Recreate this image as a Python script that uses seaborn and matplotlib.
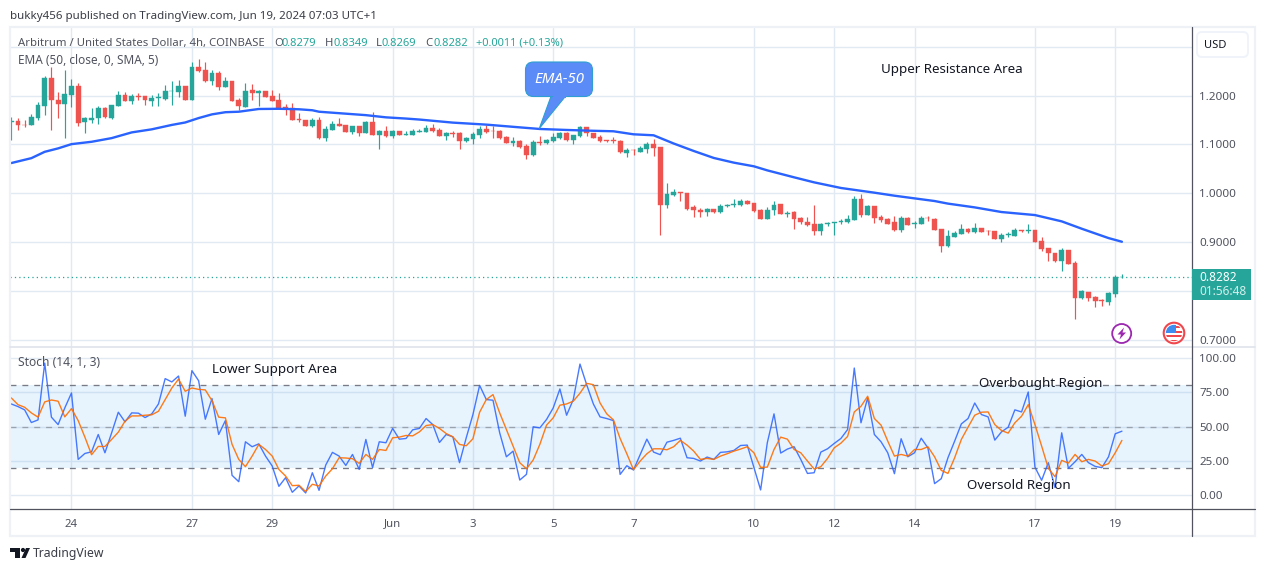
import matplotlib
matplotlib.use("Agg")
import numpy as np
import pandas as pd
import matplotlib.pyplot as plt
from matplotlib.patches import Circle, FancyBboxPatch, Polygon, Rectangle
import seaborn as sns

# candles, 4h
opens = [1.145,1.148,1.140,1.140,1.154,1.179,1.236,1.192,1.183,1.202,
 1.220,1.145,1.150,1.155,1.175,1.154,1.179,1.201,1.189,1.199,
 1.199,1.189,1.195,1.193,1.209,1.208,1.220,1.192,1.259,1.253,
 1.230,1.246,1.218,1.230,1.192,1.177,1.212,1.205,1.210,1.199,
 1.191,1.176,1.175,1.152,1.150,1.138,1.150,1.113,1.130,1.141,
 1.139,1.125,1.138,1.124,1.146,1.120,1.127,1.118,1.127,1.120,
 1.120,1.125,1.126,1.134,1.130,1.118,1.124,1.123,1.107,1.112,
 1.119,1.132,1.128,1.128,1.116,1.103,1.107,1.097,1.078,1.106,
 1.103,1.108,1.113,1.124,1.109,1.117,1.136,1.123,1.116,1.109,
 1.109,1.108,1.083,1.089,1.085,1.091,1.101,1.095,0.976,0.996,
 1.003,1.001,0.972,0.966,0.962,0.968,0.961,0.974,0.977,0.976,
 0.984,0.980,0.966,0.947,0.966,0.979,0.958,0.962,0.949,0.941,
 0.937,0.923,0.938,0.940,0.941,0.941,0.946,0.988,0.956,0.974,
 0.952,0.947,0.941,0.925,0.950,0.938,0.938,0.950,0.948,0.927,
 0.892,0.911,0.917,0.928,0.921,0.930,0.923,0.923,0.906,0.915,
 0.913,0.926,0.924,0.925,0.902,0.888,0.878,0.861,0.884,0.857,
 0.786,0.798,0.788,0.781,0.777,0.795,0.8279]
closes = [1.148,1.140,1.139,1.156,1.180,1.236,1.192,1.183,1.203,1.220,
 1.143,1.154,1.155,1.175,1.156,1.180,1.201,1.189,1.199,1.197,
 1.190,1.195,1.197,1.210,1.210,1.220,1.192,1.259,1.251,1.230,
 1.246,1.218,1.230,1.189,1.179,1.210,1.206,1.210,1.198,1.189,
 1.174,1.172,1.150,1.151,1.138,1.150,1.114,1.131,1.142,1.138,
 1.125,1.138,1.124,1.146,1.120,1.127,1.117,1.127,1.120,1.121,
 1.127,1.127,1.133,1.128,1.118,1.123,1.122,1.108,1.113,1.121,
 1.132,1.126,1.127,1.113,1.104,1.107,1.095,1.078,1.105,1.104,
 1.109,1.115,1.124,1.109,1.119,1.136,1.123,1.113,1.108,1.108,
 1.108,1.085,1.089,1.088,1.093,1.101,1.093,0.976,0.999,1.003,
 1.001,0.968,0.966,0.962,0.968,0.962,0.974,0.977,0.978,0.984,
 0.979,0.964,0.947,0.966,0.977,0.958,0.960,0.947,0.941,0.935,
 0.923,0.938,0.939,0.941,0.943,0.947,0.988,0.956,0.974,0.949,
 0.945,0.937,0.925,0.949,0.936,0.939,0.949,0.949,0.926,0.892,
 0.912,0.918,0.928,0.921,0.929,0.921,0.922,0.906,0.915,0.916,
 0.925,0.922,0.925,0.901,0.886,0.878,0.861,0.884,0.856,0.786,
 0.800,0.786,0.780,0.780,0.796,0.828,0.8282]
highs = [1.157,1.155,1.151,1.162,1.187,1.240,1.258,1.208,1.253,1.234,
 1.225,1.157,1.175,1.179,1.176,1.180,1.209,1.208,1.203,1.205,
 1.200,1.201,1.205,1.222,1.229,1.232,1.220,1.268,1.275,1.268,
 1.253,1.251,1.238,1.230,1.196,1.225,1.224,1.212,1.210,1.212,
 1.205,1.183,1.184,1.164,1.151,1.155,1.157,1.138,1.149,1.155,
 1.140,1.138,1.138,1.148,1.166,1.129,1.138,1.129,1.128,1.128,
 1.131,1.131,1.140,1.141,1.133,1.126,1.128,1.125,1.115,1.126,
 1.138,1.139,1.138,1.130,1.117,1.115,1.109,1.100,1.109,1.117,
 1.111,1.123,1.125,1.125,1.120,1.138,1.136,1.123,1.119,1.110,
 1.115,1.109,1.092,1.091,1.097,1.105,1.111,1.095,1.021,1.008,
 1.003,1.001,0.976,0.971,0.970,0.969,0.979,0.979,0.988,0.988,
 0.987,0.980,0.967,0.972,0.984,0.979,0.964,0.963,0.952,0.951,
 0.976,0.939,0.942,0.941,0.947,0.955,0.995,0.999,0.976,0.974,
 0.956,0.949,0.954,0.954,0.951,0.943,0.954,0.954,0.949,0.928,
 0.925,0.922,0.937,0.930,0.939,0.930,0.925,0.923,0.918,0.920,
 0.930,0.926,0.937,0.926,0.910,0.889,0.879,0.889,0.885,0.861,
 0.803,0.799,0.791,0.784,0.798,0.832,0.8349]
lows = [1.109,1.129,1.135,1.140,1.151,1.160,1.129,1.155,1.114,1.177,
 1.138,1.124,1.143,1.142,1.155,1.153,1.179,1.188,1.183,1.191,
 1.181,1.179,1.179,1.192,1.180,1.198,1.191,1.192,1.248,1.227,
 1.222,1.212,1.217,1.188,1.171,1.177,1.192,1.179,1.198,1.188,
 1.173,1.160,1.150,1.145,1.138,1.136,1.111,1.108,1.129,1.138,
 1.125,1.121,1.118,1.123,1.119,1.091,1.116,1.114,1.119,1.119,
 1.119,1.125,1.126,1.126,1.117,1.110,1.115,1.091,1.105,1.100,
 1.114,1.124,1.113,1.112,1.102,1.097,1.093,1.071,1.076,1.098,
 1.100,1.106,1.111,1.108,1.101,1.116,1.117,1.113,1.106,1.106,
 1.103,1.083,1.075,1.078,1.085,1.083,1.076,0.915,0.971,0.994,
 0.984,0.966,0.952,0.952,0.954,0.959,0.959,0.973,0.973,0.975,
 0.978,0.962,0.947,0.947,0.956,0.958,0.952,0.927,0.937,0.934,
 0.915,0.915,0.934,0.915,0.937,0.940,0.945,0.952,0.955,0.940,
 0.942,0.937,0.924,0.921,0.935,0.929,0.937,0.944,0.925,0.881,
 0.891,0.910,0.917,0.919,0.919,0.920,0.914,0.906,0.901,0.911,
 0.913,0.921,0.919,0.900,0.883,0.861,0.860,0.842,0.855,0.743,
 0.784,0.780,0.768,0.769,0.772,0.788,0.8269]

# EMA-50, read at a sample of candles
ema_idx = [0,3,5,7,9,12,15,18,21,24,26,28,30,32,34,37,40,43,45,46,49,53,56,59,61,
 66,71,76,79,83,87,90,93,96,99,102,105,108,111,113,117,120,124,129,132,138,140,
 144,148,153,157,160,164,166]
ema_val = [1.062,1.072,1.085,1.092,1.1007,1.1055,1.113,1.1247,1.131,1.140,1.145,1.154,
 1.1616,1.166,1.167,1.1726,1.173,1.172,1.170,1.167,1.164,1.160,1.1555,1.153,1.151,
 1.1447,1.1406,1.135,1.1317,1.1297,1.128,1.127,1.1208,1.1188,1.102,1.0867,1.0724,
 1.0628,1.0553,1.047,1.0328,1.0225,1.011,1.0014,0.9952,0.9843,0.979,0.9713,0.9618,
 0.9556,0.9427,0.9276,0.9085,0.901]

stoch_k = [66.4,64.5,62.1,52.9,54.8,96.1,56.8,51.4,63.5,74.4,
 26.1,30.4,31.6,44.2,30.9,45.4,60.4,53.4,59.9,59.7,
 56.5,59.2,66.4,84.8,82.4,86.7,57.5,90.6,83.3,55.3,
 70.3,44.2,54.3,14.5,9.9,38.9,35.3,37.4,28.5,21.3,
 6.5,12.8,2.2,6.8,1.7,16.4,3.6,22.0,31.2,28.5,
 21.7,29.7,18.8,40.6,20.1,38.9,38.2,48.6,40.8,41.3,
 47.6,48.6,55.8,51.4,38.4,44.2,42.5,23.7,41.8,58.7,
 79.9,69.6,69.1,45.4,28.0,32.1,11.1,15.2,49.8,49.0,
 55.1,63.5,77.3,58.2,69.6,95.4,80.4,66.4,57.0,55.8,
 54.3,15.2,21.5,18.4,29.7,40.8,31.4,29.5,38.6,39.9,
 41.5,27.3,26.8,24.9,27.8,26.1,31.2,31.6,32.6,36.2,
 36.5,20.1,3.9,38.2,59.2,30.7,33.6,35.3,26.1,15.9,
 16.4,31.4,33.8,37.7,41.3,47.8,92.5,52.7,70.8,44.2,
 38.9,30.9,15.7,41.1,28.0,30.9,41.5,34.5,8.5,12.1,
 27.3,39.4,51.9,55.8,67.1,58.7,57.0,40.1,46.1,49.5,
 62.1,60.6,75.1,20.5,10.9,23.7,5.6,45.4,19.6,24.4,
 29.7,23.7,21.0,20.1,28.0,44.7,46.6]
stoch_d = [70.8,65.9,64.0,59.9,56.8,67.9,69.3,68.4,57.0,63.0,
 54.3,42.3,29.5,35.5,35.5,40.6,45.9,53.9,57.7,57.7,
 58.2,58.5,61.1,69.6,78.0,84.5,75.6,78.0,77.0,76.6,
 68.8,56.8,56.3,37.0,26.1,20.8,28.5,37.0,33.3,28.5,
 18.8,14.0,7.0,7.3,2.7,8.0,6.8,14.0,19.3,27.3,
 27.1,26.6,23.2,29.7,26.1,33.3,32.6,41.8,42.3,43.5,
 43.2,46.1,50.7,51.4,48.6,44.9,42.5,37.0,36.0,41.1,
 60.4,69.6,73.2,59.9,47.8,35.8,23.7,19.3,25.6,37.0,
 51.0,56.3,65.5,66.4,68.4,74.2,81.4,80.4,67.1,59.2,
 54.8,41.3,30.2,18.6,24.9,30.2,33.8,33.8,33.1,35.3,
 39.9,36.5,32.1,26.1,26.8,26.1,28.5,30.2,32.1,33.6,
 35.3,30.9,20.3,20.5,33.3,42.3,40.8,33.3,30.9,24.9,
 19.1,20.8,26.8,34.5,37.9,42.8,60.6,64.7,72.0,55.8,
 51.0,39.4,28.5,29.7,28.5,33.3,33.3,35.3,28.0,18.1,
 15.9,27.3,40.6,49.5,58.2,60.4,60.6,51.4,47.1,45.2,
 52.7,57.5,65.9,51.4,35.8,19.6,13.5,25.4,23.4,29.7,
 24.4,26.1,24.9,21.3,23.0,30.9,39.9]

date_idx = [9,27,39,57,69,81,93,111,123,135,153,165]
date_labels = ["24","27","29","Jun","3","5","7","10","12","14","17","19"]
price_ticks = [0.7,0.8,0.9,1.0,1.1,1.2,1.3]
price_labels = ["0.7000","","0.9000","1.0000","1.1000","1.2000",""]
stoch_ticks = [0,25,50,75,100]
stoch_labels = ["0.00","25.00","50.00","75.00","100.00"]
last_close = 0.8282

W, H = 1265, 571
GREEN, RED = "#26a69a", "#ef5350"
GRID = "#e1eaf3"
TXT = "#50535e"

sns.set_theme(style="white")
plt.rcParams['font.family'] = ['Noto Sans', 'DejaVu Sans']

candles = pd.DataFrame({"o": opens, "h": highs, "l": lows, "c": closes})
candles["x"] = candles.index
candles["color"] = np.where(candles.c >= candles.o, GREEN, RED)

fig = plt.figure(figsize=(W/100, H/100), dpi=100, facecolor="white")

def pane(left, top, right, bottom):
    return fig.add_axes([left/W, 1-bottom/H, (right-left)/W, (bottom-top)/H])

ax = pane(10, 27.5, 1191.5, 346.5)
ax2 = pane(10, 347, 1191.5, 508.5)

xlim = (-0.19, 176.4)
for a in (ax, ax2):
    a.set_xlim(xlim)
    a.set_xticks(date_idx)
    a.grid(True, color=GRID, lw=1)
    a.set_axisbelow(True)
    a.yaxis.tick_right()
    a.tick_params(axis="both", length=0, labelsize=8.4, labelcolor=TXT, pad=5.5)
    for s in a.spines.values():
        s.set_visible(False)

# price pane
ax.vlines(candles.x, candles.l, candles.h, colors=candles.color, lw=0.85, zorder=2)
ax.bar(candles.x, (candles.c-candles.o).abs(), bottom=candles[["o","c"]].min(axis=1),
       width=0.72, color=candles.color, lw=0.3, edgecolor=candles.color, zorder=3)
sns.lineplot(x=ema_idx, y=ema_val, ax=ax, color="#2962ff", lw=1.7, estimator=None, zorder=4)
ax.axhline(last_close, color=GREEN, ls=(0, (1, 2.5)), lw=0.9, zorder=1)
ax.set_ylim(0.6867, 1.3393)
ax.set_yticks(price_ticks)
ax.set_yticklabels(price_labels)
ax.set_xticklabels([])

# stochastic pane
ax2.axhspan(20, 80, color="#2196f3", alpha=0.1, lw=0, zorder=1)
for lvl, c in ((80, "#787b86"), (50, "#9aa3ad"), (20, "#787b86")):
    ax2.axhline(lvl, color=c, ls=(0, (4.5, 4.5)), lw=0.95, zorder=2)
stoch = pd.DataFrame({"x": candles.x, "k": stoch_k, "d": stoch_d})
sns.lineplot(data=stoch, x="x", y="k", ax=ax2, color="#2962ff", lw=1.0, alpha=0.85, estimator=None, zorder=3)
sns.lineplot(data=stoch, x="x", y="d", ax=ax2, color="#ff6d00", lw=1.0, alpha=0.9, estimator=None, zorder=4)
ax2.set_ylim(-9.6, 107.8)
ax2.set_yticks(stoch_ticks)
ax2.set_yticklabels(stoch_labels)
ax2.set_xticklabels(date_labels, va="baseline")
ax2.tick_params(axis="x", pad=13, labelsize=8.2)
ax.set_xlabel(""); ax.set_ylabel(""); ax2.set_xlabel(""); ax2.set_ylabel("")

# everything around the panes goes on a pixel overlay
ov = fig.add_axes([0, 0, 1, 1], facecolor="none")
ov.set_xlim(0, W)
ov.set_ylim(H, 0)
ov.axis("off")

def label(x, y, s, color=TXT, size=8.2, **kw):
    kw.setdefault("va", "center")
    ov.text(x, y + 1.3, s, color=color, fontsize=size, **kw)

# frame and separators
ov.add_patch(Rectangle((9.5, 27), 1245.5, 509, fill=False, ec="#eef1f6", lw=1.6))
ov.plot([10, 1255], [346.6, 346.6], color="#e0e3eb", lw=1.2)
ov.plot([10, 1255], [508.5, 508.5], color="#50535e", lw=0.9)
ov.plot([1191.5, 1191.5], [27, 536], color="#50535e", lw=0.9)

# header and legends
label(10, 15.5, "bukky456 published on TradingView.com, Jun 19, 2024 07:03 UTC+1", color="#3a3d46", size=8.3)
label(18, 42, "Arbitrum / United States Dollar, 4h, COINBASE", size=8.15)
for x, s in ((274, "O"), (325, "H"), (376, "L"), (425, "C")):
    label(x, 42, s, size=8.15)
for x, s in ((282, "0.8279"), (334, "0.8349"), (382, "0.8269"), (433, "0.8282"), (476, "+0.0011 (+0.13%)")):
    label(x, 42, s, color=GREEN, size=8.0)
label(18, 59, "EMA (50, close, 0, SMA, 5)", size=8.5)
label(18, 361.5, "Stoch (14, 1, 3)", size=8.7)

# drawn notes
note = "#131722"
label(952, 68, "Upper Resistance Area", color=note, size=9.6, ha="center")
label(275, 368, "Lower Support Area", color=note, size=9.6, ha="center")
label(1041, 382, "Overbought Region", color=note, size=9.6, ha="center")
label(1019, 484, "Oversold Region", color=note, size=9.6, ha="center")

# EMA-50 callout
ov.add_patch(Polygon([(551.5, 95), (539.3, 128.5), (566.5, 95)], closed=True, fc="#5b8bf7", ec="#2e9fd0", lw=0.8, zorder=5))
ov.add_patch(FancyBboxPatch((530, 66.5), 58, 25.5, boxstyle="round,pad=4.5,rounding_size=8",
                            fc="#5b8bf7", ec="#2e9fd0", lw=0.8, zorder=5))
ov.add_patch(Rectangle((552.5, 93), 13, 4.5, fc="#5b8bf7", ec="none", zorder=6))
label(559, 78.5, "EMA-50", color="white", size=10.8, ha="center", style="italic", zorder=7)

# currency button
ov.add_patch(FancyBboxPatch((1199, 34), 47, 21, boxstyle="round,pad=2,rounding_size=5", fc="white", ec="#f0f3fa", lw=1.4))
label(1204, 44, "USD", color="#131722", size=8.0)

# last price tag
ov.add_patch(Rectangle((1191.5, 269), 59.5, 31, fc=GREEN, ec="none", zorder=5))
label(1199, 276.5, "0.8282", color="white", size=8.5, zorder=6, fontweight="bold")
label(1199, 290.5, "01:56:48", color="#d4efec", size=8.5, zorder=6)

# event icons
ov.add_patch(Circle((1121.7, 333.5), 9.5, fc="white", ec="#9c27b0", lw=1.3))
ov.add_patch(Polygon([(1124, 327.5), (1117.5, 334.5), (1121, 334.5), (1119.5, 339.5), (1126, 332.5), (1122.5, 332.5)], fc="#9c27b0", ec="none"))
flag_clip = Circle((1174, 333), 8.2, transform=ov.transData)
ov.add_patch(Circle((1174, 333), 10.3, fc="white", ec="#f0474c", lw=1.5))
for rect, col in (((1164, 324, 12, 8.5), "#3d8df0"),
                  ((1176, 326, 10, 2.2), "#f0474c"),
                  ((1176, 330.5, 10, 2.2), "#f0474c"),
                  ((1164, 335, 20, 2.4), "#f0474c"),
                  ((1164, 339.5, 20, 3), "#f0474c")):
    p = Rectangle(rect[:2], rect[2], rect[3], fc=col, ec="none", zorder=3)
    ov.add_patch(p)
    p.set_clip_path(flag_clip)

# logo
ov.add_patch(Polygon([(10, 548), (20, 548), (20, 558), (15, 558), (15, 552), (10, 552)], fc="#131722", ec="none"))
ov.add_patch(Circle((23, 550), 2.1, fc="#131722", ec="none"))
ov.add_patch(Polygon([(21.5, 558), (26, 548), (30, 548), (25.5, 558)], fc="#131722", ec="none"))
label(33, 552, "TradingView", color="#3a3d46", size=8.8)

fig.savefig("out.png", dpi=100)
